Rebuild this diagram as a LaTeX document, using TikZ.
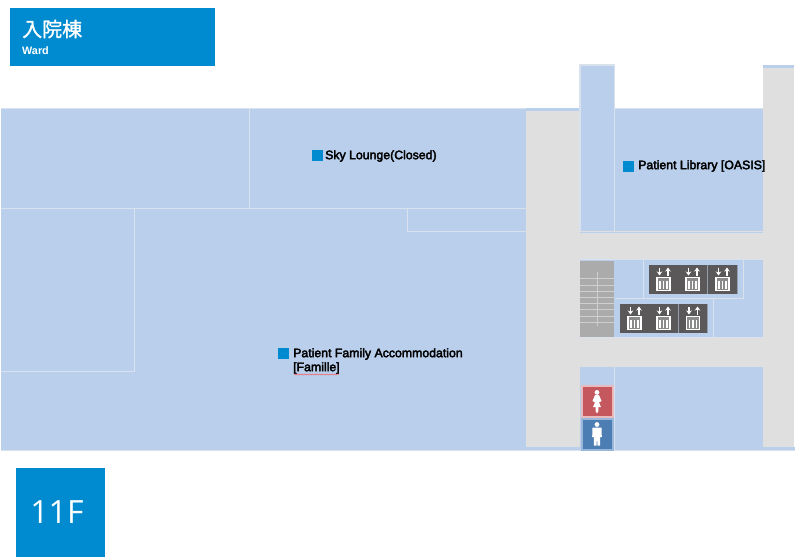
\documentclass[tikz,border=0pt]{standalone}
\usepackage{fontspec}
\setmainfont{Liberation Sans}
\newfontfamily\cjkfont[FakeBold=1.2]{Noto Sans CJK JP}
\newfontfamily\floorfont{Open Sans}
\newfontfamily\labelfont[FakeBold=3]{Liberation Sans}
\usetikzlibrary{arrows.meta,decorations.pathmorphing}
\definecolor{roomblue}{HTML}{B9CFEB}
\definecolor{wallline}{HTML}{D9E2EC}
\definecolor{corridor}{HTML}{DFDFDF}
\definecolor{headblue}{HTML}{008BD0}
\definecolor{liftgray}{HTML}{5A5859}
\definecolor{stairgray}{HTML}{ABABAB}
\definecolor{ladyred}{HTML}{C5575E}
\definecolor{manblue}{HTML}{4D7EB3}
\begin{document}
\begin{tikzpicture}[x=1pt,y=-1pt,
room/.style={fill=roomblue},
wall/.style={draw=wallline,line width=1pt},
hall/.style={fill=corridor},
bullet/.style={fill=headblue,draw=none,minimum size=11pt,inner sep=0pt},
roomlabel/.style={anchor=west,inner sep=0pt,font=\labelfont\fontsize{12.3}{14}\selectfont},
liftarrow/.style={white,line width=1.1pt,-{Stealth[length=4pt,width=5.5pt]}},
liftcell/.pic={
  \fill[liftgray] (0,0) rectangle (29,28.5);
  \draw[roomblue!60!liftgray,line width=0.6pt] (29,0) -- (29,28.5);
  \draw[liftarrow] (10.5,2.5) -- (10.5,10.5);
  \draw[liftarrow] (19,10.5) -- (19,2.5);
  \draw[white,line width=1.4pt,fill=liftgray!70!white] (8,12.5) rectangle (21,25.5);
  \foreach \xa in {11,14.5,18} \draw[white,line width=1.5pt] (\xa,16) -- (\xa,23.5);
},
ladyicon/.pic={
  \fill[white] (0,-8.6) circle (2.4);
  \fill[white] (-2,-6) -- (2,-6) -- (4.5,0) -- (2,1.5) -- (4,6) -- (1.4,6) -- (1.2,11.5) -- (-1.2,11.5) -- (-1.4,6) -- (-4,6) -- (-2,1.5) -- (-4.5,0) -- cycle;
},
manicon/.pic={
  \fill[white] (0,-9.5) circle (2.4);
  \fill[white] (-4.5,-6.5) -- (4.5,-6.5) -- (4.8,3) -- (3.2,3) -- (3,11.5) -- (0.5,11.5) -- (0,3) -- (-0.5,11.5) -- (-3,11.5) -- (-3.2,3) -- (-4.8,3) -- cycle;
}]

\useasboundingbox (0,0) rectangle (800,558);

% floor
\fill[room] (1,108) rectangle (526,450);
\fill[room] (526,108) rectangle (580,111);
\fill[room] (526,447) rectangle (795,450);
\fill[hall] (526,111) rectangle (763,447);
\fill[hall] (763,68) rectangle (794,447);
\fill[room] (763,65) rectangle (794,68);
\draw[wall] (1,108) -- (526,108);
\draw[wall] (1,450) -- (795,450);

% rooms on the left
\draw[wall] (249,108) -- (249,208);
\draw[wall] (1,208) -- (526,208);
\draw[wall] (134,208) -- (134,371) -- (1,371);
\draw[wall] (407,208) -- (407,231) -- (526,231);

% rooms on the right
\fill[room] (580,65) rectangle (763,231);
\fill[white] (615,64) rectangle (763,108);
\draw[wall,line width=1.5pt] (580,231) -- (580,65) -- (614.5,65) -- (614.5,231);
\draw[wall] (614.5,108) -- (763,108);
\draw[roomblue,line width=1pt] (580,232.5) -- (763,232.5);

% lift block
\fill[room] (580,260) rectangle (763,337);
\draw[wall] (580,259.5) -- (763,259.5);
\draw[wall] (643.5,260) -- (643.5,298) -- (743,298) -- (743,260);
\draw[wall] (614.5,298) -- (713.5,298) -- (713.5,337);
\draw[wall] (580,337) -- (763,337);
\fill[stairgray] (580,261) rectangle (614,337);
\foreach \ya in {278,285,291,297,303,309,316,322}
  \draw[corridor!70!stairgray,line width=1pt] (580,\ya) -- (614,\ya);
\draw[corridor!70!stairgray,line width=1pt] (597,272) -- (597,326);
\foreach \xa in {649,678,708}
  \pic at (\xa,265) {liftcell};
\foreach \xa in {620,649,678.5}
  \pic at (\xa,304) {liftcell};

% lower block
\fill[room] (580,367) rectangle (763,447);
\draw[wall] (614.5,367) -- (614.5,450);
\node[fill=ladyred,draw=ladyred!40!white,line width=2pt,minimum size=31pt,inner sep=0pt] (lady) at (597,401) {};
\node[fill=manblue,draw=roomblue!70!manblue,line width=2pt,minimum size=31pt,inner sep=0pt] (man) at (597,434) {};
\pic at (lady) {ladyicon};
\pic at (man) {manicon};

% labels
\node[bullet] (lounge) at (317.5,155.5) {};
\node[roomlabel] at (325,156) {Sky Lounge(Closed)};
\node[bullet] (library) at (628.5,166.5) {};
\node[roomlabel] at (638,166) {Patient Library [OASIS]};
\node[bullet] (family) at (283.5,353.5) {};
\node[roomlabel] at (293,354) {Patient Family Accommodation};
\node[roomlabel] (famille) at (293,368) {[Famille]};
\draw[red!70!white,line width=0.4pt,decorate,decoration={snake,amplitude=0.6pt,segment length=2.5pt}] (294,374.5) -- (339,374.5);

% titles
\node[fill=headblue,minimum width=205pt,minimum height=58pt,inner sep=0pt] (head) at (112.5,37) {};
\node[anchor=west,inner sep=0pt,text=white,font=\cjkfont\fontsize{20}{24}\selectfont] at (22,29) {入院棟};
\node[anchor=west,inner sep=0pt,text=white,font=\bfseries\fontsize{10.8}{12}\selectfont] at (22,51) {Ward};
\node[fill=headblue,minimum size=89pt,inner sep=0pt] (floor) at (60.5,512.5) {};
\node[text=white,inner sep=0pt,font=\floorfont\fontsize{32}{36}\selectfont] at (57,512) {11F};

\end{tikzpicture}
\end{document}
